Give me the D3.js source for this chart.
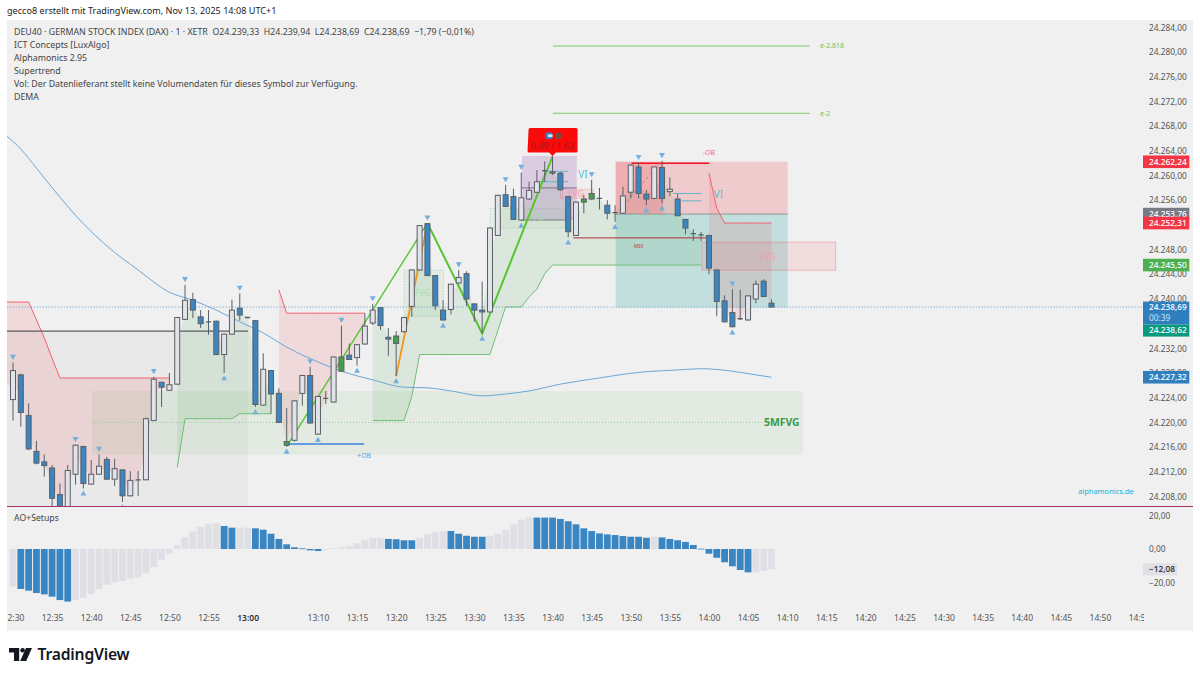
<!DOCTYPE html>
<html><head><meta charset="utf-8">
<script src="https://cdn.jsdelivr.net/npm/d3@7"></script>
<style>
html,body{margin:0;padding:0;background:#fff}
svg{display:block}
text{font-family:"Noto Sans",sans-serif}
</style></head><body><svg id="c" width="1200" height="677"></svg>
<script>
const opens=[24223.7,24227.7,24221.1,24215.3,24213.6,24212.6,24208.3,24205.6,24211.6,24216.1,24210.0,24211.6,24214.0,24210.8,24212.3,24208.1,24210.6,24210.7,24220.3,24226.5,24225.2,24226.2,24236.7,24239.9,24237.1,24236.0,24236.4,24231.0,24234.3,24238.5,24237.0,24236.5,24222.8,24228.4,24224.7,24216.3,24217.1,24224.7,24227.6,24218.1,24223.8,24223.3,24228.3,24230.9,24230.5,24232.7,24236.1,24238.6,24233.8,24232.8,24234.7,24238.8,24244.7,24252.2,24243.8,24238.2,24238.3,24242.6,24244.1,24239.2,24238.2,24237.9,24250.3,24256.9,24256.6,24252.8,24256.2,24257.3,24260.7,24260.4,24260.4,24256.6,24250.3,24255.7,24256.2,24256.3,24255.2,24254.0,24253.9,24257.3,24261.4,24257.0,24256.3,24261.3,24257.4,24256.2,24252.9,24250.6,24250.4,24250.3,24244.7,24239.7,24237.8,24236.8,24236.6,24240.0,24242.9,24239.33];
const highs=[24229.7,24227.9,24223.1,24217.0,24214.8,24213.1,24210.1,24213.1,24216.4,24216.2,24213.9,24214.8,24214.4,24214.1,24212.4,24212.1,24212.1,24220.8,24227.4,24226.6,24228.0,24237.1,24242.3,24241.0,24238.2,24238.2,24236.5,24234.4,24239.9,24240.9,24237.1,24236.6,24231.2,24228.5,24225.5,24222.3,24223.6,24227.7,24229.0,24224.3,24225.1,24230.7,24235.7,24232.8,24232.7,24237.7,24239.2,24238.7,24235.3,24234.8,24237.1,24244.8,24252.0,24252.3,24243.9,24239.8,24242.5,24244.7,24244.5,24239.3,24242.8,24251.6,24256.9,24258.5,24257.9,24260.5,24259.0,24260.9,24262.3,24263.1,24260.6,24256.7,24255.8,24256.9,24259.3,24258.0,24256.0,24255.2,24258.2,24261.8,24262.1,24257.7,24261.5,24262.4,24259.7,24257.0,24253.0,24251.3,24250.9,24250.4,24244.8,24240.6,24241.6,24241.5,24240.6,24243.0,24243.2,24239.94];
const lows=[24220.3,24219.3,24215.5,24213.2,24211.2,24206.3,24204.8,24205.2,24209.9,24209.3,24209.9,24211.5,24210.7,24209.7,24207.1,24208.0,24208.1,24210.6,24220.2,24222.5,24225.1,24226.1,24236.6,24236.9,24235.3,24234.2,24230.9,24228.0,24234.2,24236.5,24236.9,24222.5,24222.7,24221.4,24219.9,24216.1,24216.9,24222.7,24219.8,24218.0,24223.0,24223.2,24228.2,24230.1,24229.2,24232.6,24235.8,24235.0,24230.8,24227.5,24234.6,24237.1,24244.6,24243.7,24238.2,24236.5,24237.5,24242.5,24238.9,24236.3,24234.4,24237.8,24250.2,24254.9,24252.8,24252.7,24256.1,24257.2,24259.0,24260.1,24257.6,24250.0,24250.2,24253.9,24256.1,24254.5,24252.9,24252.5,24253.8,24256.3,24256.3,24255.2,24256.2,24255.5,24256.7,24253.4,24250.5,24249.4,24249.4,24244.0,24237.2,24236.2,24235.4,24236.6,24236.5,24239.3,24240.3,24238.69];
const closes=[24228.4,24221.6,24215.7,24213.4,24213.0,24207.7,24205.5,24212.2,24216.3,24210.1,24211.6,24212.9,24210.8,24212.5,24208.1,24210.6,24210.7,24220.6,24227.0,24225.7,24226.1,24237.0,24239.8,24238.2,24236.0,24236.3,24231.0,24234.3,24238.2,24237.4,24237.0,24222.9,24228.6,24224.6,24220.0,24216.9,24223.5,24227.6,24219.9,24224.2,24223.9,24230.6,24230.6,24230.2,24232.6,24235.6,24238.2,24235.7,24233.5,24234.0,24237.0,24244.7,24251.9,24243.8,24238.9,24236.6,24242.4,24243.5,24240.0,24238.2,24237.9,24251.5,24256.8,24255.0,24252.9,24256.4,24257.6,24259.0,24260.8,24260.6,24257.7,24250.9,24255.7,24256.2,24257.1,24256.3,24253.9,24254.0,24256.7,24261.7,24257.1,24256.2,24261.4,24256.3,24257.8,24253.5,24251.5,24250.6,24250.4,24245.0,24239.6,24236.3,24235.5,24236.8,24240.5,24242.4,24240.4,24238.69];
const greenBars=[35,42,49,69,73,74];
const dojiBars=[16,25,30,40,68,75,77,87,88,93];
const triDown=[0,8,11,18,22,29,38,42,46,53,57,63,65,74,80,83,92];
const triUp=[9,14,27,31,35,39,44,49,55,60,65,71,77,81,83,92];
const aoValues=[-22.4,-23.8,-24.8,-26.2,-27,-28.4,-30.4,-31.3,-30.4,-29,-26.8,-23.8,-21.2,-19.8,-19,-17.7,-16.9,-14.5,-10.7,-6.5,-2.8,2.2,7.1,10.5,13.1,14.9,15.5,13.7,12.7,12.7,12.7,12.3,11.5,9.1,6,2.8,1,0.4,-0.8,-1.2,-0.3,0.6,1,2,3.4,5.4,6.5,6.5,6,5.8,5.2,5.2,6.7,8.7,10.1,10.7,10.7,9.1,7.9,7.3,7.3,7.9,9.1,11.3,14.7,17.5,18.7,18.7,18.7,18.7,17.9,16.5,14.7,12.3,10.7,9.3,8.7,8.3,7.7,7.3,7.3,6.7,7.3,6.9,6,5.2,4.2,2.4,0.2,-2.8,-5.2,-7.9,-10.3,-12.5,-13.9,-13.9,-12.9,-12.08];
const aoGray=[0,8,9,10,11,12,13,14,15,16,17,18,19,20,21,22,23,24,25,26,29,30,40,41,42,43,44,45,46,47,52,53,54,55,61,62,63,64,65,66,82,95,96,97];
const timeBars=[0,5,10,15,20,25,30,39,44,49,54,59,64,69,74,79,84,89,94,99,104,109,114,119,124,129,134,139,144];
const timeLabels=["12:30","12:35","12:40","12:45","12:50","12:55","13:00","13:10","13:15","13:20","13:25","13:30","13:35","13:40","13:45","13:50","13:55","14:00","14:05","14:10","14:15","14:20","14:25","14:30","14:35","14:40","14:45","14:50","14:55"];
const priceTicks=[24284,24280,24276,24272,24268,24264,24260,24256,24248,24244,24240,24232,24228,24224,24220,24216,24212,24208];
const aoTicks=[20,0,-20];
const redTrendA=[24239.5,24239.5,24239.5,24236.6,24233.7,24230.4,24227.2,24227.2,24227.2,24227.2,24227.2,24227.2,24227.2,24227.2,24227.2,24227.2,24227.2,24227.2,24227.2,24227.2,24227.2];
const redBarsA=d3.range(0,21);
const greenTrendA=[24212.7,24220.6,24220.6,24220.6,24220.6,24220.6,24220.6,24220.6,24221.4,24221.4,24221.4,24221.4,24221.4];
const greenBarsA=d3.range(21,34);
const redTrendB=[24241.5,24237.7,24237.7,24237.7,24237.7,24237.7,24237.7,24237.7,24237.7,24237.7,24237.7,24237.7];
const redBarsB=d3.range(34,46);
const greenTrendB=[24220.3,24220.3,24220.3,24220.3,24220.3,24224.2,24231,24231,24231,24231,24231,24231,24231,24231,24231,24231,24234.9,24238.7,24238.7,24238.7,24240.3,24241.6,24244.1,24245.5,24245.5,24245.5,24245.5,24245.5,24245.5,24245.5,24245.5,24245.5,24245.5,24245.5,24245.5,24245.5,24245.5,24245.5,24245.5,24245.5,24245.5,24245.5,24245.5];
const greenBarsB=d3.range(46,89);
const redTrendC=[24260.4,24254.7,24252.31,24252.31,24252.31,24252.31,24252.31,24252.31,24252.31];
const redBarsC=d3.range(89,98);
const demaBars=[-0.8,1,3,6,9,12,16,20,23,26,29,32,35,39,42,46,50,53,56,60,63,66,70,75,80,85,88,92,95,97];
const demaValues=[24266.4,24264.3,24261.2,24256.5,24252.2,24248.6,24244.7,24241.1,24239.8,24238.2,24236.3,24234.5,24232.2,24229.8,24228.3,24226.9,24225.7,24225.6,24225.1,24224.3,24224.6,24225.1,24226.2,24227.2,24228.1,24228.5,24228.7,24228.3,24227.7,24227.32];
const zigBars=[35,53,60,69];
const zigValues=[24216.1,24252.3,24234.4,24263.1];
const zigOrangeBars=[49,53];
const zigOrangeValues=[24227.5,24252.3];
const zigDashBars=[78.5,82.7];
const zigDashValues=[24255.8,24262];
const legendLines=["DEU40 · GERMAN STOCK INDEX (DAX) · 1 · XETR  O24.239,33  H24.239,94  L24.238,69  C24.238,69  −1,79 (−0,01%)","ICT Concepts [LuxAlgo]","Alphamonics 2.95","Supertrend","Vol: Der Datenlieferant stellt keine Volumendaten für dieses Symbol zur Verfügung.","DEMA"];
// zones: [bar start, bar end, price top, price bottom]
const zoneGrey=[-0.8,30.05,24234.8,24200];
const zone5m=[10.1,101,24225.1,24214.8];
const zoneFvgA=[50,55.05,24244.7,24237.2];
const zoneFvgB=[61,70.6,24254.7,24251.5];
const zoneFvgSmall=[70,74.2,24257.8,24256.3];
const zoneFvgBig=[88.1,105.2,24249.2,24244.65];
const zonePurple=[65.1,72.1,24263.2,24252.8];
const zoneObRed=[77.07,99.07,24262.24,24253.76];
const zoneObRedDark=[77.07,83.16,24262.24,24253.76];
const zoneTeal=[77.07,99.07,24253.76,24238.62];
// levels: [bar start, bar end, price]
const levelGrey=[-0.8,30.05,24234.8];
const levelPurpleA=[65.1,72.1,24258];
const levelPurpleB=[65.1,70.8,24252.8];
const levelTeal=[[67.8,71,24260.7],[67.4,71,24259],[84.4,88.07,24257.1],[85.5,88.07,24255.9]];
const levelMss=[71.65,88.7,24249.9];
const levelMinusOb=[79.1,89.04,24262];
const levelPlusOb=[35.08,44.9,24216.5];
const levelFibA=[69.05,101.9,24281];
const levelFibB=[69.05,101.9,24270.1];
const levelFvgMid=[10.1,98,24220];

const svg=d3.select("#c");
const W=1200,H=677;
const paneL=7,paneR=1144,paneAll=1193,paneT=20,paneB=630.5,mainB=506.5;
const x=d3.scaleLinear().domain([0,97]).range([13,771.5]);
const y=d3.scaleLinear().domain([24208,24284]).range([496.44,27.5]);
const yAo=d3.scaleLinear().domain([-20,20]).range([582.6,515.4]);
const fmt=d3.formatLocale({decimal:",",thousands:".",grouping:[3],currency:["","€"]}).format(",.2f");
const defs=svg.append("defs");
defs.append("clipPath").attr("id","cm").append("rect").attr("x",paneL).attr("y",paneT).attr("width",paneR-paneL).attr("height",mainB-paneT);
defs.append("clipPath").attr("id","ct").append("rect").attr("x",paneL).attr("y",mainB).attr("width",paneR-paneL).attr("height",paneB-mainB);

svg.append("rect").attr("width",W).attr("height",H).attr("fill","#fff");
svg.append("rect").attr("x",paneL).attr("y",paneT).attr("width",paneAll-paneL).attr("height",paneB-paneT).attr("fill","#f0f0f0");
svg.append("text").attr("x",7).attr("y",14).attr("font-size",9.1).attr("fill","#222").text("gecco8 erstellt mit TradingView.com, Nov 13, 2025 14:08 UTC+1");

const main=svg.append("g").attr("clip-path","url(#cm)");
function zone(z,fill,stroke,dash,sw){
  return main.append("rect").attr("x",x(z[0])).attr("y",y(z[2])).attr("width",x(z[1])-x(z[0])).attr("height",y(z[3])-y(z[2]))
    .attr("fill",fill).attr("stroke",stroke||"none").attr("stroke-dasharray",dash||null).attr("stroke-width",sw||1);
}
function level(l,color,w,dash){
  return main.append("line").attr("x1",x(l[0])).attr("x2",x(l[1])).attr("y1",y(l[2])).attr("y2",y(l[2]))
    .attr("stroke",color).attr("stroke-width",w||1).attr("stroke-dasharray",dash||null);
}
function note(bar,price,str,color,size,weight,anchor,family){
  return main.append("text").attr("x",x(bar)).attr("y",y(price)).attr("dy",".35em").attr("text-anchor",anchor||"middle")
    .attr("font-size",size).attr("font-weight",weight||400).attr("fill",color).attr("font-family",family||null).text(str);
}
const mid=i=>(opens[i]+closes[i])/2;
function trend(bars,vals,line,fill,lead){
  const pts=bars.map((b,k)=>({b,v:vals[k],m:mid(b)}));
  if(lead) pts.unshift({b:-1,v:vals[0],m:mid(0)});
  main.append("path").attr("d",d3.area().x(d=>x(d.b)).y0(d=>y(d.v)).y1(d=>y(d.m))(pts)).attr("fill",fill);
  return ()=>main.append("path").attr("d",d3.line().x(d=>x(d.b)).y(d=>y(d.v))(pts)).attr("fill","none").attr("stroke",line).attr("stroke-width",1);
}
zone(zoneGrey,"rgba(0,0,0,0.028)");
zone(zone5m,"rgba(76,175,80,0.085)");
const pinkF="rgba(242,54,69,0.12)",greenF="rgba(76,175,80,0.12)",pinkL="#f0606e",greenL="#6fbf73";
const lines=[
 trend(redBarsA,redTrendA,pinkL,pinkF,true),
 trend(greenBarsA,greenTrendA,greenL,greenF),
 trend(redBarsB,redTrendB,pinkL,pinkF),
 trend(greenBarsB,greenTrendB,greenL,greenF)];
zone(zoneFvgA,"rgba(76,175,80,0.07)","rgba(76,175,80,0.3)","1.5 1.5");
zone(zoneFvgB,"rgba(76,175,80,0.05)","rgba(76,175,80,0.25)","1.5 1.5");
zone(zoneTeal,"rgba(0,150,136,0.19)");
zone(zoneObRed,"rgba(242,54,69,0.2)");
zone(zoneObRedDark,"rgba(242,54,69,0.2)");
zone(zonePurple,"rgba(135,50,165,0.19)");
zone(zoneFvgSmall,"rgba(242,54,69,0.1)","rgba(242,54,69,0.15)");
lines.push(trend(redBarsC,redTrendC,pinkL,pinkF));
zone(zoneFvgBig,"rgba(242,54,69,0.1)","rgba(242,54,69,0.22)",null,1.2);
lines.forEach(f=>f());
level(levelGrey,"#5c5c5c",1.2);
level(levelFvgMid,"#8fcf93",1,"1 2");
level(levelPurpleA,"#7a6f86",1);
level(levelPurpleB,"#7a7a86",1);
level([77.07,99.07,24253.76],"#8a9a96",1);
levelTeal.forEach(l=>level(l,"#62b4cc",1));
level(levelMss,"#b02c36",1);
level(levelMinusOb,"#f4121e",1.6);
level(levelPlusOb,"#3d83e0",1.4);
level(levelFibA,"#7ccb6a",1);
level(levelFibB,"#7ccb6a",1);
level([-0.8,146,24238.69],"#5b9bd0",1,"1 2");
note(103.2,24281,"e-2.618","#6cc45a",7,400,"start");
note(103.2,24270.1,"e-2","#6cc45a",7,400,"start");
note(52.4,24241,"FVG","#a8e0b0",8.5);
note(66.8,24253.3,"FVG","#a8d8ac",8.5);
note(72,24257,"FVG","#f0a0a6",8.5);
note(96.5,24246.8,"FVG","#f0a0a6",8.5);
note(100.6,24220,"5MFVG","#3a9a45",10.4,700,"end","Liberation Serif");
note(80,24248.6,"MSS","#c8353f",4.8);
note(89,24263.7,"-OB","#f26b75",7);
note(44.9,24214.7,"+OB","#5b9ce8",7);
note(72.9,24260.1,"VI","#5cbcd4",10,400);
note(90.2,24256.9,"VI","#5cbcd4",10,400);
svg.append("text").attr("x",1078).attr("y",494).attr("font-size",7.5).attr("fill","#12b4d8").text("alphamonics.de");

main.append("path").attr("d",d3.line().x((d,i)=>x(demaBars[i])).y(d=>y(d)).curve(d3.curveMonotoneX)(demaValues)).attr("fill","none").attr("stroke","#6ba6d6").attr("stroke-width",1);

const zig=d3.line().x((d,i)=>x(d[0])).y(d=>y(d[1]));
main.append("path").attr("d",zig([[zigBars[0],zigValues[0]],[zigBars[1],zigValues[1]]])).attr("fill","none").attr("stroke","#55c62e").attr("stroke-width",1.4);
main.append("path").attr("d",zig(zigOrangeBars.map((b,i)=>[b,zigOrangeValues[i]]))).attr("fill","none").attr("stroke","#f5921e").attr("stroke-width",1.8);
main.append("path").attr("d",zig(zigBars.slice(1).map((b,i)=>[b,zigValues[i+1]]))).attr("fill","none").attr("stroke","#55c62e").attr("stroke-width",2);
main.append("path").attr("d",zig(zigDashBars.map((b,i)=>[b,zigDashValues[i]]))).attr("fill","none").attr("stroke","#8f8f8f").attr("stroke-width",1).attr("stroke-dasharray","3 3");

// candles
const idx=d3.range(opens.length);
const wickCol="#5a5f66";
const bar=main.append("g").selectAll("g").data(idx).join("g");
bar.append("line").attr("x1",i=>x(i)).attr("x2",i=>x(i)).attr("y1",i=>y(highs[i])).attr("y2",i=>y(lows[i])).attr("stroke",wickCol).attr("stroke-width",1);
bar.filter(i=>dojiBars.includes(i)).append("line").attr("x1",i=>x(i)-2.6).attr("x2",i=>x(i)+2.6).attr("y1",i=>y(closes[i])).attr("y2",i=>y(closes[i])).attr("stroke",wickCol).attr("stroke-width",1.3);
bar.filter(i=>!dojiBars.includes(i)).append("rect")
  .attr("x",i=>x(i)-2.5).attr("width",5)
  .attr("y",i=>y(Math.max(opens[i],closes[i])))
  .attr("height",i=>Math.max(1,y(Math.min(opens[i],closes[i]))-y(Math.max(opens[i],closes[i]))))
  .attr("fill",i=>greenBars.includes(i)?"#45a049":(closes[i]>=opens[i]?"#e2e2e9":"#3a86c2"))
  .attr("stroke",wickCol).attr("stroke-width",1);

const tri=d3.symbol().type(d3.symbolTriangle).size(15)();
main.append("g").selectAll("path").data(triDown).join("path").attr("d",tri).attr("fill","#76aedd")
  .attr("transform",i=>`translate(${x(i)},${y(highs[i])-6}) rotate(180)`);
main.append("g").selectAll("path").data(triUp).join("path").attr("d",tri).attr("fill","#76aedd")
  .attr("transform",i=>`translate(${x(i)},${y(lows[i])+5.5})`);

// signal tag
const tagX=x(69),tagY=y(24263.1);
const tag=main.append("g").attr("transform",`translate(${tagX},${tagY})`);
tag.append("path").attr("d","M-24,-27 a1.5,1.5 0 0 1 1.5,-1.5 h46 a1.5,1.5 0 0 1 1.5,1.5 v21.5 a1.5,1.5 0 0 1 -1.5,1.5 h-20 l-3.5,3.5 l-3.5,-3.5 h-20 a1.5,1.5 0 0 1 -1.5,-1.5 z").attr("fill","#fb0a0a");
tag.append("rect").attr("x",-7).attr("y",-24).attr("width",7).attr("height",6.5).attr("rx",2).attr("fill","#2f86d8");
tag.append("rect").attr("x",-4.5).attr("y",-22).attr("width",4.5).attr("height",2.5).attr("fill","#f4e6e6");
tag.append("rect").attr("x",3).attr("y",-23.5).attr("width",6).attr("height",5.5).attr("fill","#7a4a3a");
tag.append("text").attr("text-anchor","middle").attr("y",-7.5).attr("font-size",9).attr("fill","#a01c1c").text("0.49 / 1.62");

// legend
legendLines.forEach((t,i)=>svg.append("text").attr("x",14).attr("y",34.5+i*13).attr("font-size",8.8).attr("fill","#444").attr("xml:space","preserve").text(t));

// axes
const axisFont=8.3;
const ay=svg.append("g").attr("transform","translate(1145,0)").call(d3.axisRight(y).tickValues(priceTicks).tickSize(0).tickPadding(4).tickFormat(fmt));
ay.select(".domain").remove();
ay.selectAll("text").attr("font-size",axisFont).attr("fill","#555").attr("font-family",null);
const aAo=svg.append("g").attr("transform","translate(1145,0)").call(d3.axisRight(yAo).tickValues(aoTicks).tickSize(0).tickPadding(4).tickFormat(fmt));
aAo.select(".domain").remove();
aAo.selectAll("text").attr("font-size",axisFont).attr("fill","#555").attr("font-family",null);

// price tags
const tags=[[24262.24,"#f23645"],[24253.76,"#787b86"],[24252.31,"#f23645"],[24245.5,"#4caf50"],[24227.32,"#2f7fbf"]];
const lab=svg.append("g");
tags.forEach(t=>{
  const cy=y(t[0]);
  lab.append("rect").attr("x",1143).attr("y",cy-6.3).attr("width",46.3).attr("height",12.6).attr("fill",t[1]);
  lab.append("text").attr("x",1149).attr("y",cy).attr("dy",".35em").attr("font-size",axisFont).attr("font-weight",500).attr("fill","#fff").text(fmt(t[0]));
});
const cy0=y(24238.69);
lab.append("rect").attr("x",1143).attr("y",cy0-5.5).attr("width",46.3).attr("height",23).attr("fill","#2f7fbf");
lab.append("text").attr("x",1149).attr("y",cy0).attr("dy",".35em").attr("font-size",axisFont).attr("font-weight",500).attr("fill","#fff").text(fmt(24238.69));
lab.append("text").attr("x",1149).attr("y",cy0+11).attr("dy",".35em").attr("font-size",axisFont).attr("fill","#cfe3f3").text("00:39");
lab.append("rect").attr("x",1143).attr("y",cy0+17.5).attr("width",46.3).attr("height",12).attr("fill","#089981");
lab.append("text").attr("x",1149).attr("y",cy0+23.5).attr("dy",".35em").attr("font-size",axisFont).attr("font-weight",500).attr("fill","#fff").text(fmt(24238.62));

// AO pane
svg.append("text").attr("x",14).attr("y",521).attr("font-size",8.7).attr("fill","#444").text("AO+Setups");
const ao=svg.append("g").attr("clip-path","url(#ct)");
ao.selectAll("rect").data(aoValues).join("rect")
  .attr("x",(d,i)=>x(i)-3.4).attr("width",6.8)
  .attr("y",d=>Math.min(yAo(d),yAo(0))).attr("height",d=>Math.max(0.8,Math.abs(yAo(d)-yAo(0))))
  .attr("fill",(d,i)=>aoGray.includes(i)?"#dfdfe6":"#3a86c2");
svg.append("rect").attr("x",1143).attr("y",yAo(-12.08)-6).attr("width",34).attr("height",12).attr("fill","#e0e0e6");
svg.append("text").attr("x",1149).attr("y",yAo(-12.08)).attr("dy",".35em").attr("font-size",axisFont).attr("font-weight",500).attr("fill","#222").text(fmt(-12.08));

// separator
svg.append("line").attr("x1",paneL).attr("x2",paneAll).attr("y1",mainB).attr("y2",mainB).attr("stroke","#a8336e").attr("stroke-width",1);

// time axis
const at=svg.append("g").attr("clip-path","url(#ct)").append("g").attr("transform","translate(0,612)")
  .call(d3.axisBottom(x).tickValues(timeBars).tickSize(0).tickPadding(3).tickFormat((d,i)=>timeLabels[i]));
at.select(".domain").remove();
at.selectAll("text").attr("font-size",axisFont+.2).attr("font-family",null).attr("fill",(d,i)=>timeLabels[i]==="13:00"?"#333":"#555").attr("font-weight",(d,i)=>timeLabels[i]==="13:00"?600:400);

// logo
const lg=svg.append("g").attr("fill","#131722");
lg.append("path").attr("d","M9,648 H19.2 V661 H14 V652.6 H9 Z");
lg.append("circle").attr("cx",22.6).attr("cy",650.3).attr("r",2.3);
lg.append("path").attr("d","M26,648 H32 L26.2,661 H20.2 Z");
lg.append("text").attr("x",37.5).attr("y",660).attr("font-family","Inter").attr("font-size",15.7).attr("font-weight",600).attr("letter-spacing",-0.2).text("TradingView");
</script></body></html>
